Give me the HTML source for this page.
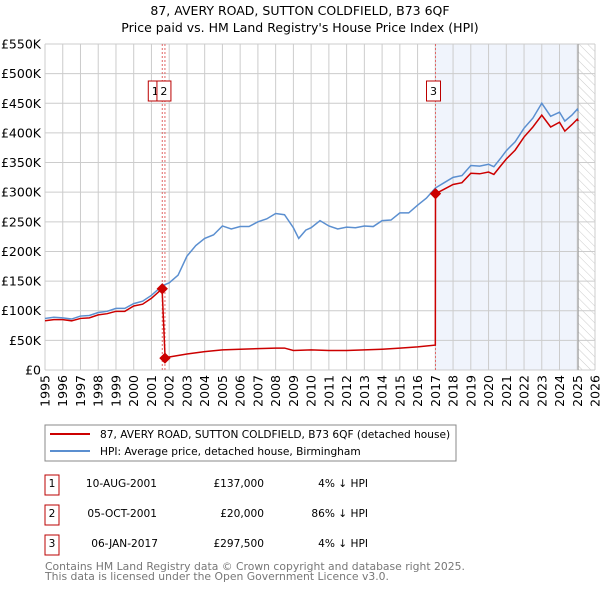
<!DOCTYPE html>
<html><head><meta charset="utf-8"><style>
body{margin:0;background:#fff;}
svg{display:block;font-family:"DejaVu Sans","Liberation Sans",sans-serif;}
</style></head><body>
<svg id="c" width="600" height="590" viewBox="0 0 600 590" xmlns="http://www.w3.org/2000/svg">
<defs>
<pattern id="hatch" width="6" height="6" patternUnits="userSpaceOnUse" patternTransform="rotate(-45)">
<line x1="0" y1="0" x2="0" y2="6" stroke="#ccc" stroke-width="1"/></pattern>
</defs>
<text x="300" y="15" text-anchor="middle" font-size="12.5">87, AVERY ROAD, SUTTON COLDFIELD, B73 6QF</text>
<text x="300" y="32" text-anchor="middle" font-size="12.5">Price paid vs. HM Land Registry's House Price Index (HPI)</text>
<g id="plot"></g>
<rect x="45" y="425" width="411" height="36" fill="#fff" stroke="#888"/>
<line x1="50" y1="434" x2="90" y2="434" stroke="#cc0000" stroke-width="2"/>
<text x="100" y="438" font-size="10.6">87, AVERY ROAD, SUTTON COLDFIELD, B73 6QF (detached house)</text>
<line x1="50" y1="451" x2="90" y2="451" stroke="#5b8fd0" stroke-width="2"/>
<text x="100" y="455" font-size="10.6">HPI: Average price, detached house, Birmingham</text>
<g font-size="10.6">
<rect x="45" y="475" width="14" height="20" fill="none" stroke="#b00"/><text x="52" y="487" text-anchor="middle">1</text>
<text x="157" y="487" text-anchor="end">10-AUG-2001</text><text x="264" y="487" text-anchor="end">£137,000</text><text x="368" y="487" text-anchor="end">4% ↓ HPI</text>
<rect x="45" y="505" width="14" height="20" fill="none" stroke="#b00"/><text x="52" y="517" text-anchor="middle">2</text>
<text x="157" y="517" text-anchor="end">05-OCT-2001</text><text x="264" y="517" text-anchor="end">£20,000</text><text x="368" y="517" text-anchor="end">86% ↓ HPI</text>
<rect x="45" y="535" width="14" height="20" fill="none" stroke="#b00"/><text x="52" y="547" text-anchor="middle">3</text>
<text x="158" y="547" text-anchor="end">06-JAN-2017</text><text x="264" y="547" text-anchor="end">£297,500</text><text x="368" y="547" text-anchor="end">4% ↓ HPI</text>
</g>
<text x="45" y="570" font-size="10.8" fill="#777">Contains HM Land Registry data © Crown copyright and database right 2025.</text>
<text x="45" y="580" font-size="10.8" fill="#777">This data is licensed under the Open Government Licence v3.0.</text>
</svg>
<script>
const yTicks=[0,50,100,150,200,250,300,350,400,450,500,550];
const yLabels=["£0","£50K","£100K","£150K","£200K","£250K","£300K","£350K","£400K","£450K","£500K","£550K"];
const years=[1995,1996,1997,1998,1999,2000,2001,2002,2003,2004,2005,2006,2007,2008,2009,2010,2011,2012,2013,2014,2015,2016,2017,2018,2019,2020,2021,2022,2023,2024,2025,2026];
const hpiT=[1995,1995.5,1996,1996.5,1997,1997.5,1998,1998.5,1999,1999.5,2000,2000.5,2001,2001.6,2002,2002.5,2003,2003.5,2004,2004.5,2005,2005.5,2006,2006.5,2007,2007.5,2008,2008.5,2009,2009.3,2009.7,2010,2010.5,2011,2011.5,2012,2012.5,2013,2013.5,2014,2014.5,2015,2015.5,2016,2016.5,2017,2017.5,2018,2018.5,2019,2019.5,2020,2020.3,2020.7,2021,2021.5,2022,2022.5,2023,2023.5,2024,2024.3,2024.7,2025,2025.05];
const hpiV=[87,89,88,86,91,92,97,99,104,104,112,116,126,142,147,160,192,210,222,228,243,238,242,242,250,255,264,262,240,222,236,240,252,243,238,241,240,243,242,252,253,265,265,278,290,307,316,325,328,345,344,347,343,358,370,385,408,425,450,428,435,420,430,440,437];
const redT=[1995,1995.5,1996,1996.5,1997,1997.5,1998,1998.5,1999,1999.5,2000,2000.5,2001,2001.6,2001.6,2001.77,2002,2003,2004,2005,2006,2007,2008,2008.5,2009,2010,2011,2012,2013,2014,2015,2016,2017,2017.01,2017.5,2018,2018.5,2019,2019.5,2020,2020.3,2020.7,2021,2021.5,2022,2022.5,2023,2023.5,2024,2024.3,2024.7,2025,2025.05];
const redV=[83,85,85,83,87,88,93,95,99,99,108,111,121,137,137,20,22,27,31,34,35,36,37,37,33,34,33,33,34,35,37,39,42,297.5,305,313,316,332,331,334,330,345,356,371,393,410,430,410,418,403,414,423,420];
const saleT=[2001.61,2001.76,2017.01];
const saleV=[137,20,297.5];
const saleLbl=["1","2","3"];
const X=t=>45+(t-1995)*(550/31), Y=v=>370-v*(326/550);
const g=document.getElementById('plot'),NS='http://www.w3.org/2000/svg';
function el(n,a,p){const e=document.createElementNS(NS,n);for(const k in a)e.setAttribute(k,a[k]);(p||g).appendChild(e);return e;}
let e;
e=el('rect',{x:X(2017),y:44,width:X(2025.05)-X(2017),height:326,fill:'#f0f4fc'});


e=el('rect',{x:X(2025.05),y:44,width:595-X(2025.05),height:326,fill:'url(#hatch)'});


yTicks.forEach((v,i)=>{
 e=el('line',{x1:45,x2:595,y1:Y(v),y2:Y(v),stroke:'#ccc'});
 
 
 e=el('text',{x:41,y:Y(v)+4.5,'text-anchor':'end','font-size':'12.5'});e.textContent=yLabels[i];
 
 
});
years.forEach(yr=>{
 e=el('line',{x1:X(yr),x2:X(yr),y1:44,y2:370,stroke:'#ccc'});
 
 
 e=el('text',{x:0,y:0,'font-size':'12.5','text-anchor':'end',transform:`translate(${X(yr)+4.5},375) rotate(-90)`});e.textContent=yr;
 
 
});
e=el('line',{x1:X(2025.05),x2:X(2025.05),y1:44,y2:370,stroke:'#999'});


saleT.forEach((t,i)=>{
 e=el('line',{x1:X(t),x2:X(t),y1:44,y2:370,stroke:'#e06666','stroke-dasharray':'2,2'});
 
 
});
e=el('polyline',{points:hpiT.map((t,i)=>X(t)+','+Y(hpiV[i])).join(' '),fill:'none',stroke:'#5b8fd0','stroke-width':1.5});


e=el('polyline',{points:redT.map((t,i)=>X(t)+','+Y(redV[i])).join(' '),fill:'none',stroke:'#cc0000','stroke-width':1.5});


saleT.forEach((t,i)=>{
 e=el('rect',{x:X(t)-4,y:Y(saleV[i])-4,width:8,height:8,fill:'#cc0000',transform:`rotate(45 ${X(t)} ${Y(saleV[i])})`});
 
 
});
[[0,-7],[1,-1],[2,-2]].forEach(([i,dx])=>{
 const cx=X(saleT[i])+dx;
 e=el('rect',{x:cx-7,y:81,width:14,height:20,fill:'#fff',stroke:'#b00'});
 
 
 e=el('text',{x:cx,y:95,'text-anchor':'middle','font-size':'11'});e.textContent=saleLbl[i];
 
 
});
</script>
</body></html>
